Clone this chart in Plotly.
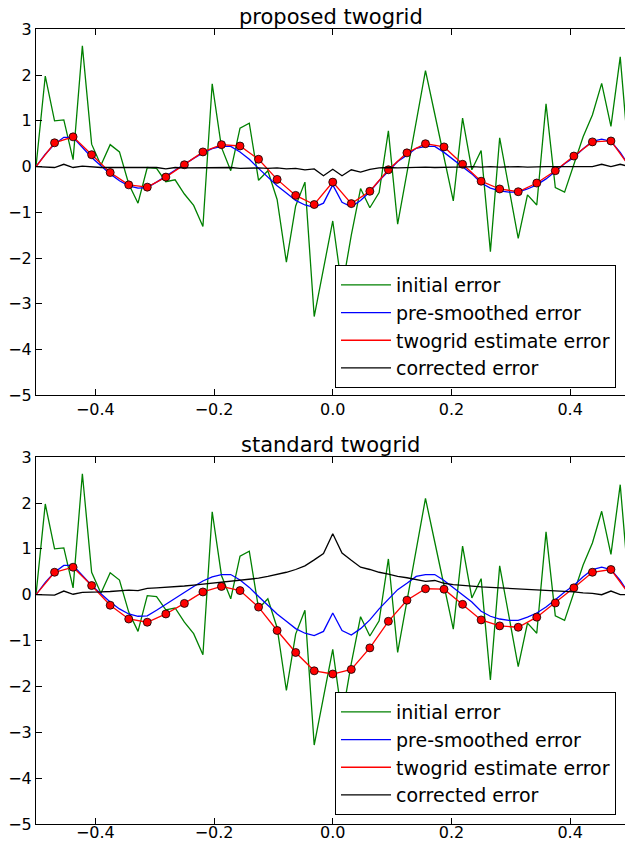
import numpy as np
import plotly.graph_objects as go

# fine grid (65 points) and coarse grid (33 points) on [-0.5, 0.5]
x_fine = np.linspace(-0.5, 0.5, 65)
x_coarse = np.linspace(-0.5, 0.5, 33)

initial_error = [0, 1.98, 1.00, 1.02, 0.15, 2.64, 0.49, 0.03, 0.48, 0.32,
                 -0.38, -0.80, -0.02, -0.04, -0.33, -0.29, -0.60, -0.85, -1.31, 1.81,
                 0.42, -0.09, 0.84, 0.95, -0.30, -0.09, -0.72, -2.09, -0.86, -0.34,
                 -3.28, -2.20, -1.19, -2.67, -1.50, -0.48, -0.90, -0.57, 0.78, -1.26,
                 -0.14, 0.99, 2.10, 1.15, 0.20, -0.75, 1.06, -0.07, 0.35, -1.86,
                 0.63, -0.47, -1.57, -0.62, -0.84, 1.37, -0.46, -0.56, 0.05, 0.65,
                 1.13, 1.82, 0.88, 2.40, 0]

pre_smoothed = [0, 0.27, 0.49, 0.64, 0.64, 0.42, 0.20, 0.02, -0.16, -0.31,
                -0.42, -0.47, -0.46, -0.34, -0.21, -0.07, 0.06, 0.18, 0.30, 0.39,
                0.44, 0.44, 0.32, 0.16, -0.04, -0.23, -0.42, -0.58, -0.74, -0.84,
                -0.89, -0.80, -0.40, -0.78, -0.88, -0.74, -0.55, -0.31, -0.09, 0.11,
                0.25, 0.40, 0.44, 0.44, 0.31, 0.15, -0.02, -0.16, -0.36, -0.47,
                -0.53, -0.56, -0.56, -0.49, -0.40, -0.27, -0.11, 0.06, 0.20, 0.39,
                0.55, 0.60, 0.55, 0.31, 0]

twogrid_proposed = [0, 0.52, 0.65, 0.26, -0.13, -0.40, -0.45, -0.23, 0.04, 0.32,
                    0.48, 0.45, 0.16, -0.28, -0.63, -0.83, -0.34, -0.81, -0.54, -0.07,
                    0.30, 0.50, 0.43, 0.05, -0.32, -0.49, -0.55, -0.36, -0.09, 0.23,
                    0.54, 0.56, 0]

corrected_proposed = [0, -0.01, -0.02, 0.05, -0.02, 0.01, -0.01, -0.02, -0.02, -0.02,
                      -0.02, -0.02, -0.03, -0.02, -0.05, -0.02, -0.03, -0.03, -0.03, -0.03,
                      -0.03, -0.02, -0.04, -0.03, -0.03, -0.04, -0.03, -0.05, -0.04, -0.07,
                      -0.05, -0.20, -0.06, -0.20, -0.07, -0.12, -0.06, -0.03, -0.02, -0.03,
                      -0.02, -0.02, -0.01, -0.02, -0.01, -0.01, -0.01, 0.00, -0.01, 0.00,
                      -0.01, 0.00, 0.00, -0.01, 0.00, 0.00, 0.00, 0.00, 0.01, 0.00,
                      0.00, 0.05, 0.00, 0.05, 0]

twogrid_standard = [0, 0.49, 0.60, 0.20, -0.23, -0.53, -0.60, -0.42, -0.19, 0.06,
                    0.18, 0.09, -0.27, -0.78, -1.26, -1.66, -1.73, -1.63, -1.16, -0.58,
                    -0.12, 0.13, 0.12, -0.21, -0.55, -0.68, -0.71, -0.49, -0.18, 0.15,
                    0.49, 0.55, 0]

corrected_standard = [0, 0.00, -0.01, 0.08, 0.01, 0.05, 0.05, 0.06, 0.07, 0.08,
                      0.10, 0.09, 0.14, 0.15, 0.16, 0.17, 0.19, 0.21, 0.23, 0.25,
                      0.27, 0.29, 0.31, 0.33, 0.36, 0.40, 0.44, 0.49, 0.55, 0.63,
                      0.76, 0.90, 1.33, 0.91, 0.75, 0.60, 0.55, 0.49, 0.45, 0.40,
                      0.37, 0.33, 0.29, 0.31, 0.25, 0.22, 0.20, 0.18, 0.17, 0.16,
                      0.15, 0.14, 0.13, 0.11, 0.10, 0.09, 0.08, 0.07, 0.06, 0.04,
                      0.03, 0.00, 0.08, 0.00, 0]

titles = ["proposed twogrid", "standard twogrid"]
legend_names = ["initial error", "pre-smoothed error", "twogrid estimate error", "corrected error"]
x_ticks = [-0.4, -0.2, 0.0, 0.2, 0.4]
y_ticks = [-5, -4, -3, -2, -1, 0, 1, 2, 3]

FONT = "DejaVu Sans"
W, H = 625, 844
LW = 1.3

fig = go.Figure()

panels = [
    (twogrid_proposed, corrected_proposed, "x", "y", "legend"),
    (twogrid_standard, corrected_standard, "x2", "y2", "legend2"),
]

for red, black, xa, ya, lg in panels:
    fig.add_trace(go.Scatter(x=x_fine, y=initial_error, mode="lines", name=legend_names[0],
                             line=dict(color="#008000", width=LW), xaxis=xa, yaxis=ya,
                             legend=lg, legendgroup=lg + "a"))
    fig.add_trace(go.Scatter(x=x_fine, y=pre_smoothed, mode="lines", name=legend_names[1],
                             line=dict(color="#0000ff", width=LW), xaxis=xa, yaxis=ya,
                             legend=lg, legendgroup=lg + "b"))
    fig.add_trace(go.Scatter(x=x_coarse, y=red, mode="lines", name=legend_names[2],
                             line=dict(color="#ff0000", width=LW), xaxis=xa, yaxis=ya,
                             legend=lg, legendgroup=lg + "c"))
    fig.add_trace(go.Scatter(x=x_coarse[1:-1], y=red[1:-1], mode="markers", showlegend=False,
                             marker=dict(color="#ff0000", size=8, line=dict(color="black", width=0.8)),
                             xaxis=xa, yaxis=ya))
    fig.add_trace(go.Scatter(x=x_fine, y=black, mode="lines", name=legend_names[3],
                             line=dict(color="black", width=LW), xaxis=xa, yaxis=ya,
                             legend=lg, legendgroup=lg + "d"))

L = 36
xr = [-0.5, -0.5 + (W - L) / 593.5]

def px2paper(py):
    return 1 - py / H

dom_top = [px2paper(395.2), px2paper(29.4)]
dom_bot = [px2paper(823.9), px2paper(457.2)]

axis_common = dict(showline=True, linecolor="black", linewidth=1, ticks="inside", ticklen=6,
                   tickcolor="black", tickwidth=1, showgrid=False, zeroline=False,
                   automargin=False,
                   tickfont=dict(family=FONT, size=16, color="black"))

xaxis_cfg = dict(axis_common, range=xr, tickvals=x_ticks, tickformat=".1f", mirror="ticks")
yaxis_cfg = dict(axis_common, range=[-5, 3], tickvals=y_ticks, mirror=False)

legend_common = dict(font=dict(family=FONT, size=19, color="black"), bgcolor="white",
                     bordercolor="black", borderwidth=1, xanchor="left", yanchor="top",
                     traceorder="grouped", tracegroupgap=0, itemwidth=50)

fig.update_layout(
    width=W, height=H,
    margin=dict(l=L, r=0, t=0, b=0, autoexpand=False),
    paper_bgcolor="white", plot_bgcolor="white",
    xaxis=dict(xaxis_cfg, anchor="y", domain=[0, 1]),
    yaxis=dict(yaxis_cfg, anchor="x", domain=dom_top),
    xaxis2=dict(xaxis_cfg, anchor="y2", domain=[0, 1], ticklabelstandoff=-6),
    yaxis2=dict(yaxis_cfg, anchor="x2", domain=dom_bot),
    legend=dict(legend_common, x=(335 - L) / (W - L), y=px2paper(265)),
    legend2=dict(legend_common, x=(335 - L) / (W - L), y=px2paper(692)),
    annotations=[
        dict(text=titles[0], x=0.5, y=dom_top[1], xref="paper", yref="paper",
             xanchor="center", yanchor="bottom", yshift=-2, showarrow=False,
             font=dict(family=FONT, size=21, color="black")),
        dict(text=titles[1], x=0.5, y=dom_bot[1], xref="paper", yref="paper",
             xanchor="center", yanchor="bottom", yshift=-2, showarrow=False,
             font=dict(family=FONT, size=21, color="black")),
    ],
)

fig.write_html("out.html")
